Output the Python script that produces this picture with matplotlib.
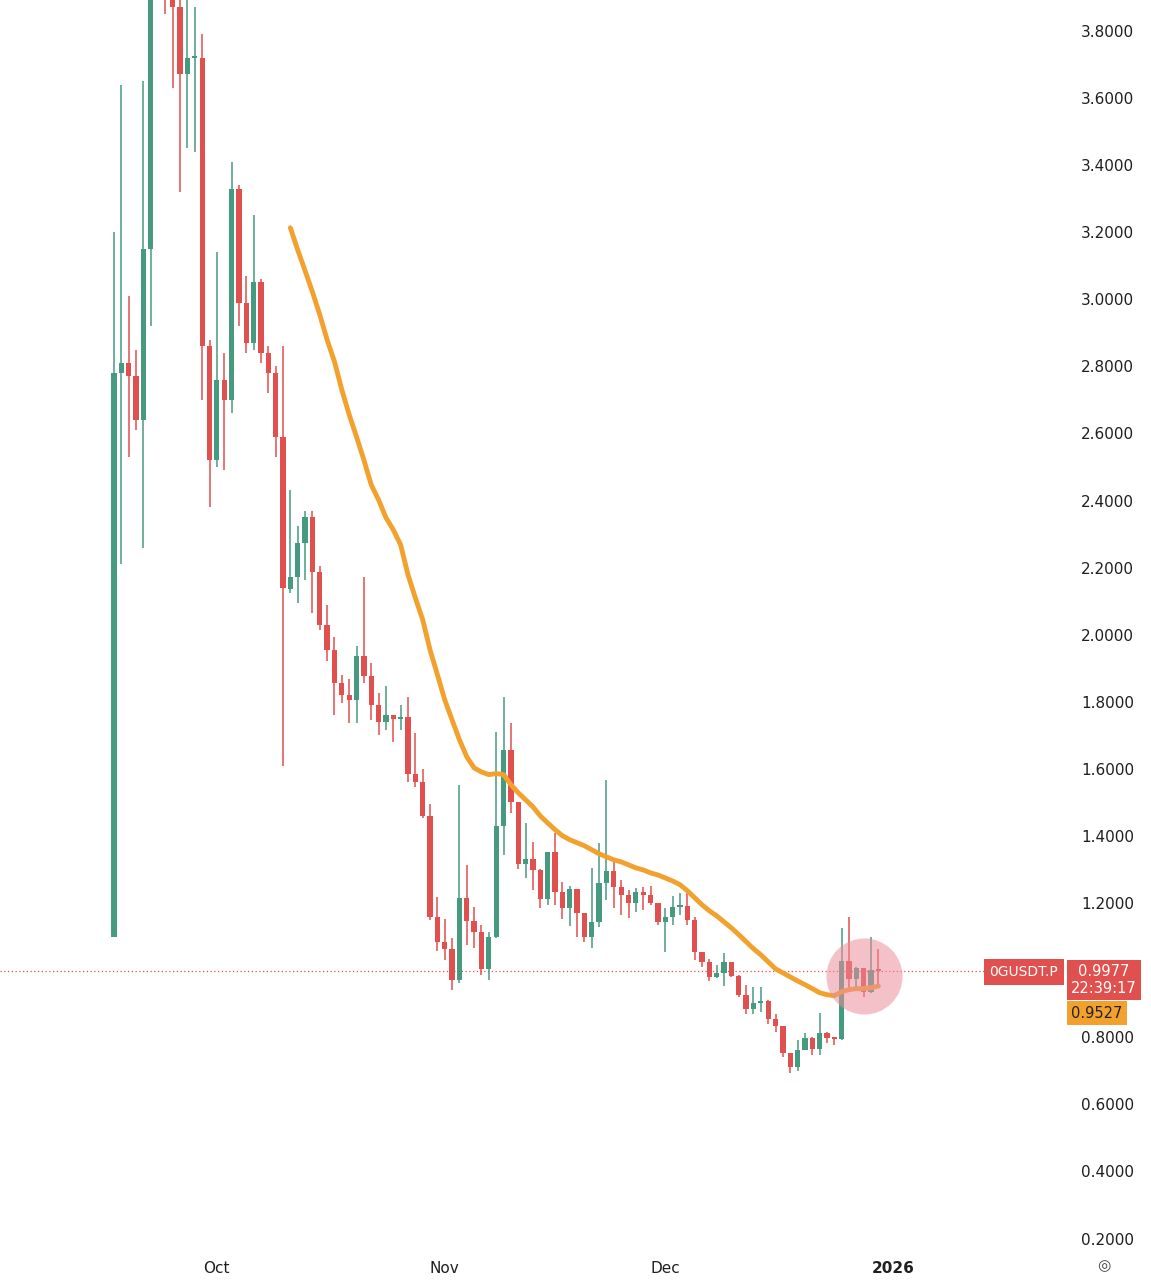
import matplotlib
matplotlib.use("Agg")
import matplotlib.pyplot as plt
import numpy as np

# Daily candles starting Sep 17 (index 0)
opens = [1.10,2.78,2.81,2.77,2.64,3.15,4.05,4.30,4.00,3.87,3.67,3.72,3.72,2.86,2.52,2.76,2.70,3.33,2.99,2.87,
         3.05,2.84,2.78,2.59,2.137,2.173,2.274,2.352,2.188,2.030,1.955,1.857,1.821,1.806,1.937,1.878,1.791,1.740,1.761,1.749,
         1.755,1.585,1.562,1.460,1.159,1.085,1.064,0.972,1.216,1.147,1.115,1.004,1.100,1.431,1.657,1.502,1.317,1.332,1.299,1.213,
         1.353,1.234,1.186,1.243,1.171,1.100,1.144,1.261,1.296,1.249,1.225,1.201,1.234,1.225,1.201,1.144,1.159,1.189,1.192,1.150,
         1.055,1.025,0.980,0.992,1.025,0.983,0.927,0.885,0.903,0.909,0.855,0.834,0.754,0.712,0.763,0.799,0.766,0.814,0.799,0.796,
         1.028,0.974,1.007,0.936,1.001]
closes = [2.78,2.81,2.77,2.64,3.15,4.05,4.30,4.00,3.87,3.67,3.72,3.725,2.86,2.52,2.76,2.70,3.33,2.99,2.87,3.05,
          2.84,2.78,2.59,2.14,2.173,2.274,2.352,2.188,2.030,1.955,1.857,1.821,1.806,1.937,1.878,1.791,1.740,1.761,1.749,1.755,
          1.585,1.562,1.460,1.159,1.085,1.064,0.972,1.216,1.147,1.115,1.004,1.100,1.431,1.657,1.502,1.317,1.332,1.299,1.213,1.353,
          1.234,1.186,1.243,1.171,1.100,1.144,1.261,1.296,1.249,1.225,1.201,1.234,1.225,1.201,1.144,1.159,1.189,1.192,1.150,1.055,
          1.025,0.980,0.992,1.025,0.983,0.927,0.885,0.903,0.909,0.855,0.834,0.754,0.712,0.763,0.799,0.766,0.814,0.799,0.796,1.028,
          0.974,1.007,0.936,1.001,0.9977]
highs = [3.20,3.64,3.01,2.85,3.65,4.20,4.50,4.40,4.05,3.92,3.95,3.87,3.79,2.88,3.14,2.84,3.41,3.34,3.07,3.25,
         3.06,2.86,2.80,2.86,2.432,2.325,2.369,2.369,2.206,2.089,1.994,1.881,1.869,1.967,2.173,1.916,1.827,1.848,1.761,1.791,
         1.815,1.708,1.600,1.496,1.219,1.153,1.097,1.553,1.314,1.189,1.135,1.115,1.711,1.815,1.738,1.502,1.439,1.383,1.302,1.353,
         1.410,1.264,1.252,1.243,1.171,1.305,1.380,1.568,1.323,1.270,1.240,1.246,1.249,1.252,1.201,1.186,1.222,1.231,1.231,1.159,
         1.055,1.034,1.016,1.052,1.025,0.986,0.957,0.951,0.951,0.912,0.870,0.834,0.754,0.793,0.814,0.802,0.873,0.817,0.799,1.126,
         1.159,1.010,1.007,1.100,1.064]
lows = [1.10,2.21,2.53,2.61,2.26,2.92,3.95,3.85,3.63,3.32,3.45,3.44,2.70,2.38,2.50,2.49,2.66,2.92,2.84,2.85,
        2.81,2.72,2.53,1.61,2.125,2.095,2.164,2.065,2.015,1.922,1.761,1.797,1.738,1.738,1.857,1.747,1.702,1.717,1.681,1.717,
        1.562,1.547,1.454,1.150,1.058,1.031,0.942,0.962,1.076,1.067,0.986,0.972,1.097,1.344,1.469,1.302,1.276,1.240,1.186,1.195,
        1.195,1.153,1.132,1.100,1.085,1.067,1.129,1.210,1.186,1.165,1.156,1.174,1.180,1.195,1.135,1.055,1.135,1.165,1.135,1.031,
        1.010,0.968,0.977,0.954,0.980,0.921,0.870,0.870,0.876,0.840,0.817,0.742,0.694,0.700,0.763,0.748,0.748,0.784,0.778,0.793,
        0.936,0.948,0.921,0.933,0.951]

# Moving average, read per candle from index 24
ma_start = 24
ma_val = [3.213,3.147,3.085,3.022,2.954,2.879,2.814,2.730,2.656,2.590,2.521,2.447,2.402,2.349,2.313,2.268,
          2.179,2.110,2.045,1.955,1.881,1.806,1.746,1.687,1.636,1.603,1.591,1.583,1.586,1.583,1.553,1.529,
          1.508,1.487,1.460,1.439,1.419,1.401,1.389,1.380,1.371,1.359,1.347,1.338,1.329,1.323,1.314,1.305,
          1.299,1.290,1.284,1.275,1.266,1.255,1.237,1.216,1.195,1.177,1.162,1.144,1.126,1.106,1.085,1.064,
          1.046,1.025,1.004,0.992,0.980,0.968,0.957,0.945,0.933,0.927,0.924,0.936,0.942,0.945,0.945,0.948,0.9527]

# 1.0000 is hidden behind the price labels in the reference
yticks = [0.2, 0.4, 0.6, 0.8, 1.2, 1.4, 1.6, 1.8, 2.0, 2.2, 2.4, 2.6, 2.8, 3.0, 3.2, 3.4, 3.6, 3.8]
xtick_pos = [14, 45, 75, 106]
xtick_lab = ["Oct", "Nov", "Dec", "2026"]
last_price = 0.9977
ma_last = 0.9527

GREEN = "#469a80"
RED = "#e0504e"
ORANGE = "#f2a12e"

fig = plt.figure(figsize=(11.51, 12.8), dpi=100)
ax = fig.add_axes([0, 30/1280, 1060/1151, 1250/1280])
ax.set_xlim(-15.5, 128.7)
ax.set_ylim(0.166, 3.892)

n = len(opens)
x = np.arange(n)
for i in range(n):
    o, c, h, l = opens[i], closes[i], highs[i], lows[i]
    col = GREEN if c >= o else RED
    ax.vlines(x[i], l, h, color=col, lw=1.1, zorder=2)
    bot, top = min(o, c), max(o, c)
    ax.bar(x[i], max(top - bot, 0.006), bottom=bot, width=0.72, color=col, zorder=3, linewidth=0)

ma_x = np.arange(ma_start, ma_start + len(ma_val))
ax.plot(ma_x, ma_val, color=ORANGE, lw=3.5, solid_capstyle="round", solid_joinstyle="round", zorder=4)

ax.axhline(last_price, color=RED, lw=0.9, ls=(0, (1, 2)), zorder=1)

ax.scatter([102], [0.9825], s=3000, color="#ec8f9c", alpha=0.55, zorder=5, linewidths=0)

for s in ax.spines.values():
    s.set_visible(False)
ax.yaxis.tick_right()
ax.set_yticks(yticks)
ax.set_yticklabels([f"{v:.4f}" for v in yticks], fontsize=11, color="#1f1f1f")
ax.tick_params(axis="y", length=0, pad=15)
ax.set_xticks(xtick_pos)
ax.set_xticklabels(xtick_lab, fontsize=11, color="#1f1f1f")
for lbl in ax.get_xticklabels():
    if lbl.get_text() == "2026":
        lbl.set_fontweight("bold")
ax.tick_params(axis="x", length=0, pad=8)

# price labels on the right
fig.text(1024/1151, 1 - 972/1280, "0GUSDT.P", ha="center", va="center", fontsize=10, color="white",
         bbox=dict(boxstyle="square,pad=0.4", fc=RED, ec="none"))
fig.text(1104/1151, 1 - 980/1280, "0.9977\n22:39:17", ha="center", va="center", fontsize=10.5, color="white",
         linespacing=1.1, bbox=dict(boxstyle="square,pad=0.3", fc=RED, ec="none"))
fig.text(1097/1151, 1 - 1013/1280, "0.9527", ha="center", va="center", fontsize=10.5, color="#222222",
         bbox=dict(boxstyle="square,pad=0.3", fc=ORANGE, ec="none"))
fig.text(1104/1151, 1 - 1266/1280, "◎", ha="center", va="center", fontsize=11, color="#444444")

fig.savefig("out.png", dpi=100, facecolor="white")
